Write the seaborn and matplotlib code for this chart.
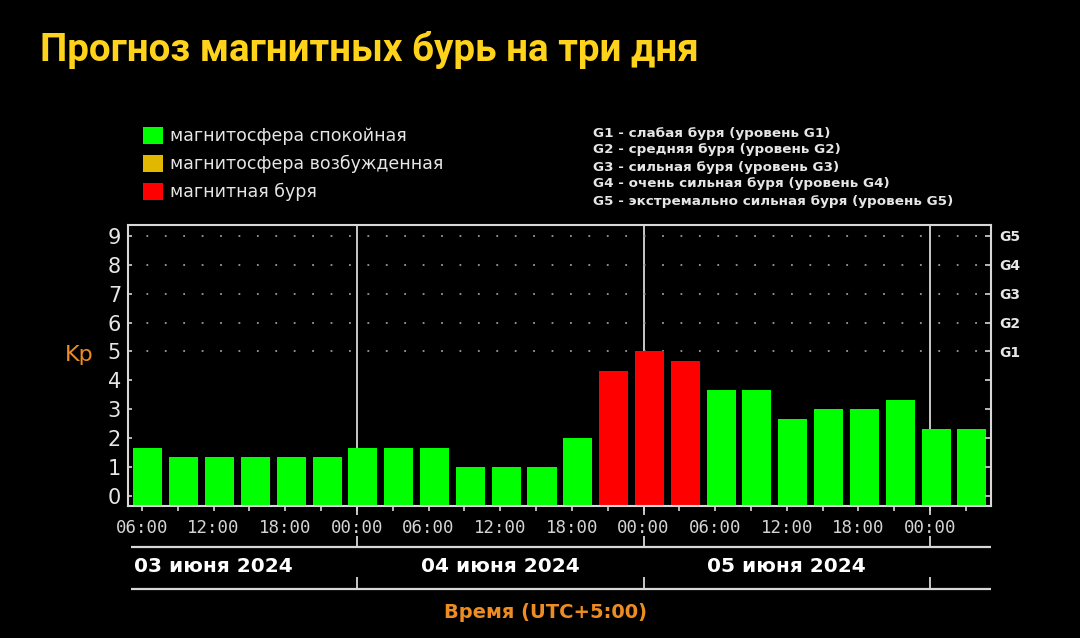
"""
Kp forecast chart: three-day magnetic storm outlook
"""
import numpy as np
import pandas as pd
import matplotlib
matplotlib.use('Agg')
import matplotlib.pyplot as plt
import matplotlib.transforms as mtrans
import seaborn as sns

# --- data -------------------------------------------------------------
hours = [6.5 + 3 * k for k in range(24)]          # bar centres, hours from 03 June 00:00 (UTC+5)
kp = [1.67, 1.33, 1.33, 1.33, 1.33, 1.33, 1.67, 1.67,
      1.67, 1.00, 1.00, 1.00, 2.00, 4.33, 5.00, 4.67,
      3.67, 3.67, 2.67, 3.00, 3.00, 3.33, 2.33, 2.33]
status_names = ['магнитосфера спокойная', 'магнитосфера возбужденная', 'магнитная буря']
status = [status_names[2] if v >= 4.33 else status_names[0] for v in kp]
palette = dict(zip(status_names, ['#00ff00', '#e0b800', '#ff0000']))

day_labels = ['03 июня 2024', '04 июня 2024', '05 июня 2024']
day_centres = [12, 36, 60]
day_bounds = [24, 48, 72]
major_ticks = list(range(6, 73, 6))
tick_labels = ['%02d:00' % (h % 24) for h in major_ticks]
minor_ticks = list(range(9, 76, 6))
g_levels = [5, 6, 7, 8, 9]
g_labels = ['G1', 'G2', 'G3', 'G4', 'G5']
g_legend = ['G1 - слабая буря (уровень G1)',
            'G2 - средняя буря (уровень G2)',
            'G3 - сильная буря (уровень G3)',
            'G4 - очень сильная буря (уровень G4)',
            'G5 - экстремально сильная буря (уровень G5)']

df = pd.DataFrame({'hour': hours, 'kp': kp, 'status': status})

# --- style ------------------------------------------------------------
sns.set_style('dark', {'axes.facecolor': 'black', 'figure.facecolor': 'black'})
plt.rcParams['font.family'] = ['DejaVu Sans']
fg = '#e6e6e6'
spine_c = '#d8d8d8'
orange = '#ec8c22'

fig = plt.figure(figsize=(10.8, 6.38), dpi=100, facecolor='black')
ax = fig.add_axes([128 / 1080, 1 - 506 / 638, 863 / 1080, 281 / 638])
ax.set_facecolor('black')

ylo, yhi = -0.35, 9.38
xlo, xhi = 4.83, 77.1

# day separators and dotted levels behind the bars
ax.vlines(day_bounds, ylo, yhi, color=spine_c, lw=1.3, zorder=1)
ax.hlines(g_levels, xlo, xhi, color='#9a9a9a', lw=1.3, linestyles=[(0, (1, 9.2))], zorder=1)

sns.barplot(data=df, x='hour', y='kp', hue='status', hue_order=status_names,
            palette=palette, native_scale=True, dodge=False, width=0.81,
            saturation=1, errorbar=None, edgecolor='none', legend=True,
            ax=ax, zorder=2)

# bars start at the bottom spine, as in the original
for p in ax.patches:
    h = p.get_height()
    p.set_y(ylo)
    p.set_height(h - ylo)

ax.set_xlim(xlo, xhi)
ax.set_ylim(ylo, yhi)
ax.set_xlabel('')
ax.set_ylabel('')
ax.grid(False)

for s in ax.spines.values():
    s.set_visible(True)
    s.set_color(spine_c)
    s.set_linewidth(1.5)

ax.set_yticks(range(10))
ax.tick_params(axis='y', direction='in', length=3, width=1.2, color=spine_c,
               labelsize=15, labelcolor=fg, pad=5, left=True)
ax.set_xticks(major_ticks)
ax.set_xticklabels(tick_labels, fontfamily='DejaVu Sans Mono', fontsize=12.5, color='#d4d4d4')
ax.set_xticks(minor_ticks, minor=True)
ax.tick_params(axis='x', which='both', direction='out', length=3.5, width=1.2,
               color=spine_c, pad=6, bottom=True)

# right side: G levels
ax2 = ax.twinx()
ax2.set_ylim(ylo, yhi)
ax2.set_yticks(range(10))
ax2.set_yticklabels(['' for _ in range(5)] + g_labels, fontsize=10, fontweight='bold', color=fg)
ax2.tick_params(axis='y', direction='in', length=4, width=1.2, color=spine_c, pad=6, right=True)
for s in ax2.spines.values():
    s.set_visible(False)
ax2.grid(False)

# time axis decorations below the plot
tr = mtrans.blended_transform_factory(ax.transData, ax.transAxes)
ax.vlines(day_bounds, -0.032, 0, transform=tr, color=spine_c, lw=1.3, clip_on=False)
ax.vlines(day_bounds, -0.146, -0.108, transform=tr, color=spine_c, lw=1.3, clip_on=False)
ax.vlines(day_bounds, -0.295, -0.253, transform=tr, color=spine_c, lw=1.3, clip_on=False)
ax.hlines([-0.146, -0.295], 0.003, 1.0, transform=ax.transAxes, color=spine_c, lw=1.6, clip_on=False)
for c, lab in zip(day_centres, day_labels):
    ax.text(c, -0.217, lab, transform=tr, ha='center', va='center',
            fontsize=14.5, fontweight='bold', color='white')

# legend
sns.move_legend(ax, 'upper left', bbox_to_anchor=(0.009, 1.375), frameon=False,
                title=None, fontsize=12.5, labelcolor=fg, handlelength=1.15,
                handleheight=1.15, handletextpad=0.45, labelspacing=0.55, borderaxespad=0)

for i, line in enumerate(g_legend):
    fig.text(593 / 1080, 1 - (133 + 17 * i) / 638, line, ha='left', va='center',
             fontsize=9.7, fontweight='bold', color=fg)

fig.text(40 / 1080, 1 - 50 / 638, 'Прогноз магнитных бурь на три дня', ha='left', va='center',
         fontsize=27.7, fontweight='bold', color='#ffd31a', fontfamily='Roboto')
fig.text(79 / 1080, 1 - 355 / 638, 'Kp', ha='center', va='center', fontsize=16, color=orange)
fig.text(546 / 1080, 1 - 613 / 638, 'Время (UTC+5:00)', ha='center', va='center',
         fontsize=14, fontweight='bold', color=orange)

fig.savefig('out.png', dpi=100, facecolor='black')
